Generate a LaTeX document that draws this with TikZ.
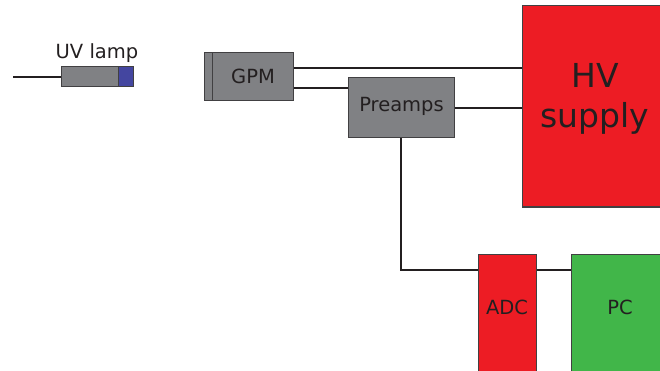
\documentclass[tikz,border=0pt]{standalone}
\usepackage{fontspec}
\setmainfont{DejaVu Sans}
\definecolor{boxgray}{HTML}{808184}
\definecolor{hvred}{HTML}{ED1C24}
\definecolor{pcgreen}{HTML}{41B649}
\definecolor{lampblue}{HTML}{4446A0}
\definecolor{edge}{HTML}{414042}
\definecolor{ink}{HTML}{231F20}
\begin{document}
\begin{tikzpicture}[x=1pt,y=-1pt,
  blk/.style={draw=edge,line width=1pt,inner sep=0pt,rectangle},
  lbl/.style={text=ink,inner sep=0pt,font=\fontsize{19.5}{22}\selectfont},
  wire/.style={draw=ink,line width=2pt}]
\useasboundingbox (0,0) rectangle (660,371);
\clip (0,0) rectangle (660,371);
% boxes
\node[blk,fill=boxgray,minimum width=57pt,minimum height=20pt] (lamp) at (89.5,77) {};
\node[blk,fill=lampblue,minimum width=15pt,minimum height=20pt] (lamptip) at (125.5,77) {};
\node[lbl] (lamplabel) at (97,53) {UV lamp};
\coordinate (lampend) at (13,77);
\node[blk,fill=boxgray,minimum width=89pt,minimum height=48pt] (gpm) at (248.5,77) {};
\node[lbl] (gpmlabel) at (253,76) {GPM};
\node[blk,fill=boxgray,minimum width=106pt,minimum height=60pt] (pre) at (401,108) {};
\node[lbl] (prelabel) at (401.5,106) {Preamps};
\node[blk,fill=hvred,minimum width=145pt,minimum height=201pt] (hv) at (594.5,106.5) {};
\node[text=ink,inner sep=0pt,align=center,font=\fontsize{33}{40}\selectfont] (hvlabel) at (595,99) {HV\\supply};
\node[blk,fill=hvred,minimum width=58pt,minimum height=124pt] (adc) at (507,316) {};
\node[lbl] (adclabel) at (507,307) {ADC};
\node[blk,fill=pcgreen,minimum width=92pt,minimum height=124pt] (pc) at (617,316) {};
\node[lbl] (pclabel) at (620,307) {PC};
% GPM inner divider
\draw[edge,line width=1pt] ([xshift=9pt]gpm.north west) -- ([xshift=9pt]gpm.south west);
% connectors
\draw[wire] (lampend) -- (lamp.west);
\draw[wire] ([yshift=9pt]gpm.east) -- ([yshift=9pt]gpm.east -| hv.west);
\draw[wire] ([yshift=-11pt]gpm.east) -- ([yshift=-11pt]gpm.east -| pre.west);
\draw[wire] (pre.east) -- (pre.east -| hv.west);
\coordinate (adcin) at ([yshift=46pt]adc.west);
\draw[wire] (pre.south) |- (adcin);
\draw[wire] (adcin -| adc.east) -- (adcin -| pc.west);
\end{tikzpicture}
\end{document}
